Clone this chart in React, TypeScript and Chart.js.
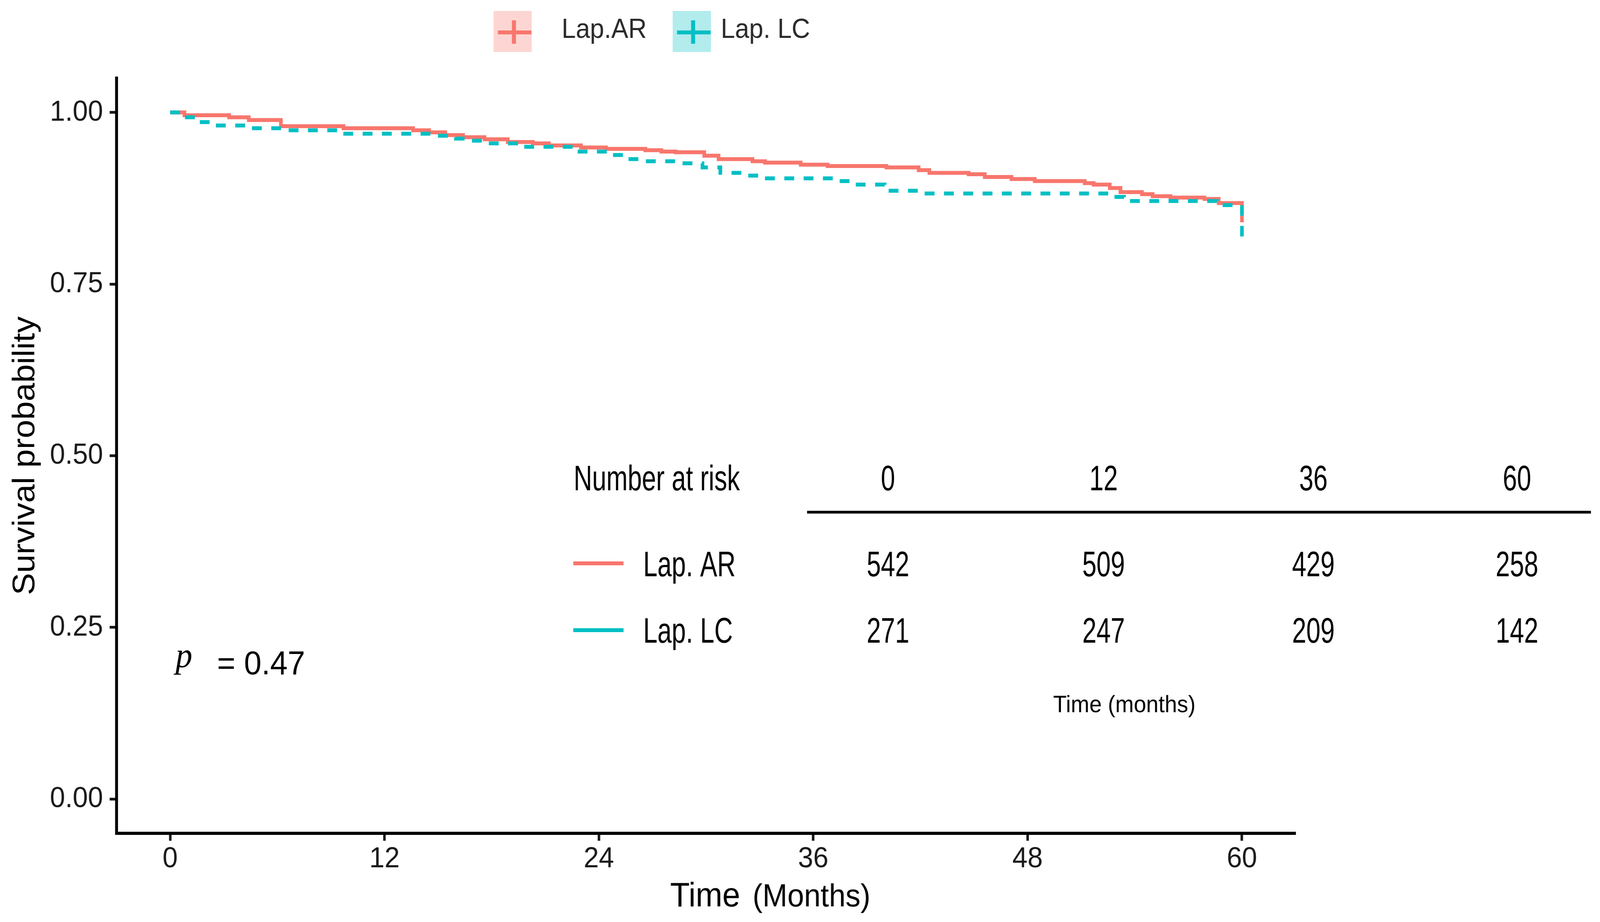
import React, { useEffect, useRef } from 'react';
import { Chart, registerables } from 'chart.js';

Chart.register(...registerables);

// ---------- data ----------
const arTimes = [0, 0.8, 3.3, 4.4, 6.2, 9.7, 13.6, 14.5, 15.4, 16.4, 17.6, 18.9, 20.3, 21.2, 23.0, 24.4, 26.6, 27.5, 28.3, 29.9, 30.7, 32.6, 33.3, 35.3, 36.8, 40.1, 41.9, 42.5, 44.7, 45.6, 47.1, 48.4, 51.2, 51.7, 52.6, 53.2, 54.4, 55.0, 56.0, 57.9, 58.7, 60.0];
const arSurv = [1.0, 0.996, 0.993, 0.989, 0.98, 0.977, 0.974, 0.971, 0.967, 0.964, 0.961, 0.957, 0.955, 0.952, 0.949, 0.947, 0.945, 0.943, 0.942, 0.937, 0.932, 0.929, 0.927, 0.924, 0.922, 0.92, 0.916, 0.912, 0.91, 0.906, 0.903, 0.9, 0.897, 0.895, 0.89, 0.884, 0.881, 0.878, 0.876, 0.874, 0.868, 0.84];

const lcTimes = [0, 0.7, 1.6, 2.3, 4.4, 6.4, 9.6, 14.8, 16.0, 17.0, 17.8, 19.6, 22.8, 24.5, 25.5, 26.5, 28.5, 29.8, 30.8, 32.2, 33.0, 37.2, 38.3, 40.0, 41.9, 52.7, 53.4, 58.6, 60.0];
const lcSurv = [1.0, 0.993, 0.986, 0.981, 0.977, 0.974, 0.969, 0.966, 0.962, 0.959, 0.955, 0.95, 0.943, 0.938, 0.932, 0.929, 0.926, 0.92, 0.912, 0.908, 0.904, 0.9, 0.895, 0.886, 0.882, 0.877, 0.871, 0.865, 0.815];

const xTickValues = [0, 12, 24, 36, 48, 60];
const yTickValues = [0, 0.25, 0.5, 0.75, 1.0];

const legendLabels = ['Lap.AR', 'Lap. LC'];
const tableGroupLabels = ['Lap. AR', 'Lap. LC'];
const riskTimeLabels = ['0', '12', '36', '60'];
const riskAR = [542, 509, 429, 258];
const riskLC = [271, 247, 209, 142];
const pValueLabel = '= 0.47';

// ---------- style ----------
const RED = '#F8766D';
const CYAN = '#00BFC4';
const SANS = '"Liberation Sans", Arial, Helvetica, sans-serif';
const SERIF = '"Liberation Serif", "Times New Roman", serif';

// logical drawing size (the reference size)
const W = 4393;
const H = 2360;

function toPoints(t: number[], s: number[]) {
  return t.map((v, i) => ({ x: v, y: s[i] }));
}

function narrowText(ctx: CanvasRenderingContext2D, text: string, x: number, y: number, align: 'left' | 'center', size: number, cond = 0.78) {
  ctx.save();
  ctx.font = `${size}px ${SANS}`;
  ctx.textBaseline = 'alphabetic';
  ctx.textAlign = 'left';
  const w = ctx.measureText(text).width * cond;
  const left = align === 'center' ? x - w / 2 : x;
  ctx.translate(left, y);
  ctx.scale(cond, 1);
  ctx.fillText(text, 0, 0);
  ctx.restore();
}

const extras = {
  id: 'kmExtras',
  afterDraw(chart: any) {
    const ctx: CanvasRenderingContext2D = chart.ctx;
    ctx.save();

    // ---- top legend ----
    const keys = [
      { x: 1355, fill: 'rgba(248,118,109,0.3)', col: RED, label: legendLabels[0], tx: 1542 },
      { x: 1847, fill: 'rgba(0,191,196,0.3)', col: CYAN, label: legendLabels[1], tx: 1979 },
    ];
    keys.forEach((k) => {
      ctx.fillStyle = k.fill;
      ctx.fillRect(k.x, 28, 105, 105);
      ctx.strokeStyle = k.col;
      ctx.lineCap = 'butt';
      ctx.lineWidth = 10;
      ctx.beginPath();
      ctx.moveTo(k.x + 12, 83);
      ctx.lineTo(k.x + 104, 83);
      ctx.stroke();
      ctx.lineWidth = 11;
      ctx.beginPath();
      ctx.moveTo(k.x + 56, 52);
      ctx.lineTo(k.x + 56, 112);
      ctx.stroke();
      ctx.fillStyle = '#2a2a2a';
      ctx.font = `70px ${SANS}`;
      ctx.textAlign = 'left';
      ctx.textBaseline = 'alphabetic';
      ctx.fillText(k.label, k.tx, 97);
    });

    // ---- p value ----
    ctx.fillStyle = '#000';
    ctx.font = `italic 92px ${SERIF}`;
    ctx.fillText('p', 482, 1708);
    ctx.font = `86px ${SANS}`;
    ctx.fillText(pValueLabel, 596, 1726);

    // ---- x axis title (mixed sizes) ----
    ctx.font = `88px ${SANS}`;
    ctx.fillText('Time', 1840, 2320);
    const tw = ctx.measureText('Time').width;
    ctx.font = `82px ${SANS}`;
    ctx.fillText('(Months)', 1840 + tw + 34, 2320);

    // ---- number at risk table ----
    const cols = [2438, 3030, 3606, 4165];
    ctx.fillStyle = '#000';
    narrowText(ctx, 'Number at risk', 1575, 1255, 'left', 90);
    riskTimeLabels.forEach((l, i) => narrowText(ctx, l, cols[i], 1255, 'center', 90));
    ctx.strokeStyle = '#000';
    ctx.lineWidth = 7;
    ctx.beginPath();
    ctx.moveTo(2216, 1311);
    ctx.lineTo(4368, 1311);
    ctx.stroke();

    const rows = [
      { y: 1475, ly: 1442, col: RED, label: tableGroupLabels[0], vals: riskAR },
      { y: 1645, ly: 1613, col: CYAN, label: tableGroupLabels[1], vals: riskLC },
    ];
    rows.forEach((r) => {
      ctx.strokeStyle = r.col;
      ctx.lineWidth = 10;
      ctx.beginPath();
      ctx.moveTo(1574, r.ly);
      ctx.lineTo(1712, r.ly);
      ctx.stroke();
      ctx.fillStyle = '#000';
      narrowText(ctx, r.label, 1766, r.y, 'left', 90);
      r.vals.forEach((v, i) => narrowText(ctx, String(v), cols[i], r.y, 'center', 90));
    });

    ctx.fillStyle = '#000';
    ctx.font = `61px ${SANS}`;
    ctx.textAlign = 'center';
    ctx.fillText('Time (months)', 3087, 1823);

    ctx.restore();
  },
};

export default function App() {
  const ref = useRef<HTMLCanvasElement | null>(null);

  useEffect(() => {
    document.body.style.margin = '0';
    document.body.style.overflow = 'hidden';
    const canvas = ref.current;
    if (!canvas) return;
    const vw = window.innerWidth || W;
    const vh = window.innerHeight || H;
    // bitmap is drawn at the reference size and fitted to the viewport via CSS
    canvas.width = W;
    canvas.height = H;
    canvas.style.width = vw + 'px';
    canvas.style.height = vh + 'px';

    const chart = new Chart(canvas, {
      type: 'line',
      data: {
        datasets: [
          {
            label: legendLabels[1],
            data: toPoints(lcTimes, lcSurv),
            borderColor: CYAN,
            backgroundColor: CYAN,
            borderWidth: 10,
            borderDash: [27, 26],
            borderCapStyle: 'butt',
            borderJoinStyle: 'miter',
            stepped: 'before',
            pointRadius: 0,
            fill: false,
          },
          {
            label: legendLabels[0],
            data: toPoints(arTimes, arSurv),
            borderColor: RED,
            backgroundColor: RED,
            borderWidth: 10,
            borderCapStyle: 'butt',
            borderJoinStyle: 'miter',
            stepped: 'before',
            pointRadius: 0,
            fill: false,
          },
        ],
      },
      options: {
        animation: false,
        responsive: false,
        devicePixelRatio: 1,
        parsing: false as any,
        layout: { autoPadding: false, padding: { left: 0, right: W - 3557, top: 200, bottom: 0 } },
        plugins: {
          legend: { display: false },
          tooltip: { enabled: false },
          title: { display: false },
        },
        scales: {
          x: {
            type: 'linear',
            min: -3,
            max: 63,
            afterFit: (sc: any) => { sc.height = H - 2133; },
            afterBuildTicks: (sc: any) => { sc.ticks = xTickValues.map((v) => ({ value: v })); },
            grid: { display: true, drawOnChartArea: false, drawTicks: true, tickLength: 19, tickWidth: 7, tickColor: '#1a1a1a' },
            border: { display: true, color: '#000', width: 8 },
            ticks: {
              color: '#1a1a1a',
              padding: 2,
              maxRotation: 0,
              autoSkip: false,
              font: { size: 75, family: SANS },
              callback: (v: any) => String(v),
            },
            title: { display: false },
          },
          y: {
            type: 'linear',
            min: -0.05,
            max: 1.05,
            afterFit: (sc: any) => { sc.width = 320; },
            afterBuildTicks: (sc: any) => { sc.ticks = yTickValues.map((v) => ({ value: v })); },
            grid: { display: true, drawOnChartArea: false, drawTicks: true, tickLength: 19, tickWidth: 7, tickColor: '#1a1a1a' },
            border: { display: true, color: '#000', width: 8 },
            ticks: {
              color: '#1a1a1a',
              padding: 18,
              autoSkip: false,
              font: { size: 75, family: SANS },
              callback: (v: any) => Number(v).toFixed(2),
            },
            title: {
              display: true,
              text: 'Survival probability',
              color: '#000',
              font: { size: 85, family: SANS, lineHeight: 1 },
              padding: { top: 28, bottom: 0 },
            },
          },
        },
      },
      plugins: [extras],
    });
    return () => chart.destroy();
  }, []);

  return (
    <div style={{ position: 'fixed', left: 0, top: 0, width: '100vw', height: '100vh', background: '#fff', overflow: 'hidden' }}>
      <canvas ref={ref} style={{ display: 'block' }} />
    </div>
  );
}
